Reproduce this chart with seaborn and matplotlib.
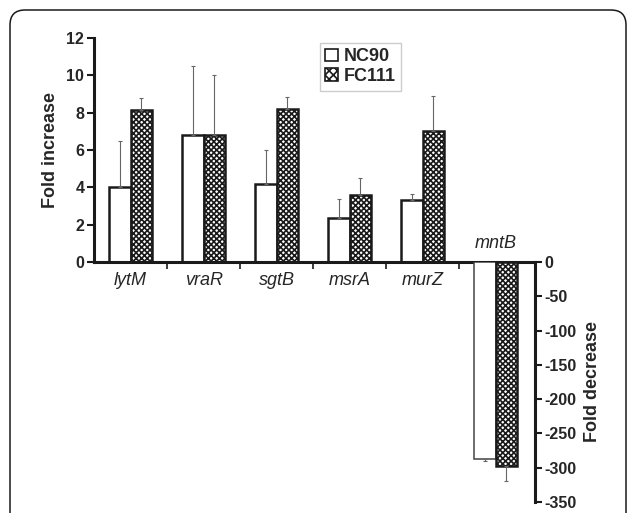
import matplotlib

matplotlib.use("Agg")
import matplotlib.pyplot as plt
import pandas as pd
import seaborn as sns
from matplotlib.patches import FancyBboxPatch, Patch

genes = ["lytM", "vraR", "sgtB", "msrA", "murZ", "mntB"]
strains = ["NC90", "FC111"]
nc90_values = [4.0, 6.8, 4.2, 2.35, 3.3, -288]
fc111_values = [8.15, 6.8, 8.2, 3.6, 7.0, -298]
nc90_err = [2.5, 3.7, 1.8, 1.0, 0.35, 2]
fc111_err = [0.65, 3.2, 0.65, 0.9, 1.9, 21]
left_ticks = [0, 2, 4, 6, 8, 10, 12]
right_ticks = [0, -50, -100, -150, -200, -250, -300, -350]


def build_frame() -> pd.DataFrame:
    rows = []
    for strain, values, errs in [
        ("NC90", nc90_values, nc90_err),
        ("FC111", fc111_values, fc111_err),
    ]:
        for gene, value, err in zip(genes, values, errs):
            rows.append({"gene": gene, "strain": strain, "value": value, "err": err})
    return pd.DataFrame(rows)


def draw_bars(ax, df: pd.DataFrame) -> None:
    sns.barplot(
        data=df,
        x="gene",
        y="value",
        hue="strain",
        order=genes,
        hue_order=strains,
        palette=["white", "white"],
        width=0.58,
        errorbar=None,
        legend=False,
        edgecolor="#1a1a1a",
        linewidth=1.8,
        ax=ax,
    )
    for container, strain in zip(ax.containers, strains):
        sub = df[df["strain"] == strain].set_index("gene").loc[genes]
        xs, ys, lo, hi = [], [], [], []
        for bar, (gene, row) in zip(container, sub.iterrows()):
            if strain == "FC111":
                bar.set_hatch("xxxxxx")
            elif gene == "mntB":
                # this one is drawn with a thinner outline in the original
                bar.set_linewidth(1.1)
                bar.set_edgecolor("#444444")
            xs.append(bar.get_x() + bar.get_width() / 2)
            ys.append(row["value"])
            if row["value"] >= 0:
                lo.append(0)
                hi.append(row["err"])
            else:
                lo.append(row["err"])
                hi.append(0)
        ax.errorbar(
            xs, ys, yerr=[lo, hi], fmt="none", ecolor="#666666",
            elinewidth=0.8, capsize=1.5, capthick=0.8, zorder=1,
        )


def main() -> None:
    sns.set_theme(style="white")
    plt.rcParams["font.family"] = ["Liberation Sans", "DejaVu Sans"]
    plt.rcParams["hatch.linewidth"] = 1.2
    plt.rcParams["hatch.color"] = "#2a2a2a"

    df = build_frame()

    fig = plt.figure(figsize=(6.29, 5.13), dpi=100)
    ax1 = fig.add_axes([94 / 629, 1 - 262 / 513, 441 / 629, 224 / 513])
    ax2 = fig.add_axes([94 / 629, 1 - 502 / 513, 441 / 629, 240 / 513])
    for ax in (ax1, ax2):
        ax.patch.set_alpha(0)
    draw_bars(ax1, df)
    draw_bars(ax2, df)

    xlim = (-0.5, 5.54)
    tick_size = 11.5
    label_size = 13
    gene_size = 13

    # top axis: fold increase
    ax1.set_xlim(*xlim)
    ax1.set_ylim(0, 12)
    ax1.set_yticks(left_ticks)
    ax1.set_yticklabels([str(t) for t in left_ticks], fontweight="bold", fontsize=tick_size)
    ax1.set_ylabel("Fold increase", fontweight="bold", fontsize=label_size, labelpad=5)
    ax1.set_xlabel("")
    ax1.set_xticks(range(5))
    ax1.set_xticklabels(genes[:5], fontstyle="italic", fontsize=gene_size)
    ax1.set_xticks([0.5, 1.5, 2.5, 3.5, 4.5], minor=True)
    ax1.tick_params(axis="x", which="major", length=0, pad=7)
    ax1.tick_params(axis="x", which="minor", length=5, width=1.2, direction="out",
                    bottom=True, color="#1a1a1a")
    ax1.tick_params(axis="y", length=5, width=1.5, direction="out", left=True,
                    color="#1a1a1a", pad=2)
    for side in ("top", "right"):
        ax1.spines[side].set_visible(False)
    for side in ("left", "bottom"):
        ax1.spines[side].set_linewidth(2.2)
        ax1.spines[side].set_color("#1a1a1a")
    ax1.text(5, 0.55, "mntB", ha="center", va="bottom", fontstyle="italic", fontsize=gene_size)

    # lower axis: fold decrease
    ax2.set_xlim(*xlim)
    ax2.set_ylim(-350, 0)
    ax2.set_xticks([])
    ax2.set_xlabel("")
    ax2.yaxis.tick_right()
    ax2.yaxis.set_label_position("right")
    ax2.set_yticks(right_ticks)
    ax2.set_yticklabels([str(t) for t in right_ticks], fontweight="bold", fontsize=tick_size)
    ax2.set_ylabel("Fold decrease", fontweight="bold", fontsize=label_size, labelpad=5)
    ax2.tick_params(axis="y", length=5, width=1.5, direction="out", right=True,
                    left=False, color="#1a1a1a", pad=2)
    for side in ("top", "left", "bottom"):
        ax2.spines[side].set_visible(False)
    ax2.spines["right"].set_linewidth(2.2)
    ax2.spines["right"].set_color("#1a1a1a")

    handles = [
        Patch(facecolor="white", edgecolor="#1a1a1a", linewidth=1.2),
        Patch(facecolor="white", edgecolor="#1a1a1a", linewidth=1.2, hatch="xxxx"),
    ]
    fig.legend(
        handles, strains, loc="upper left", bbox_to_anchor=(320 / 629, 1 - 43 / 513),
        frameon=True, fancybox=False, edgecolor="#cccccc", framealpha=1,
        prop={"weight": "bold", "size": 13}, handlelength=0.7, handleheight=0.7,
        handletextpad=0.3, labelspacing=0.15, borderpad=0.3, borderaxespad=0,
    )

    border = FancyBboxPatch(
        (0.10, -0.5), 6.16, 5.53,
        boxstyle="round,pad=0,rounding_size=0.15",
        transform=fig.dpi_scale_trans, facecolor="none", edgecolor="#1a1a1a",
        linewidth=1.1, clip_on=False,
    )
    fig.patches.append(border)

    fig.savefig("out.png", dpi=100)
    plt.close(fig)


if __name__ == "__main__":
    main()
